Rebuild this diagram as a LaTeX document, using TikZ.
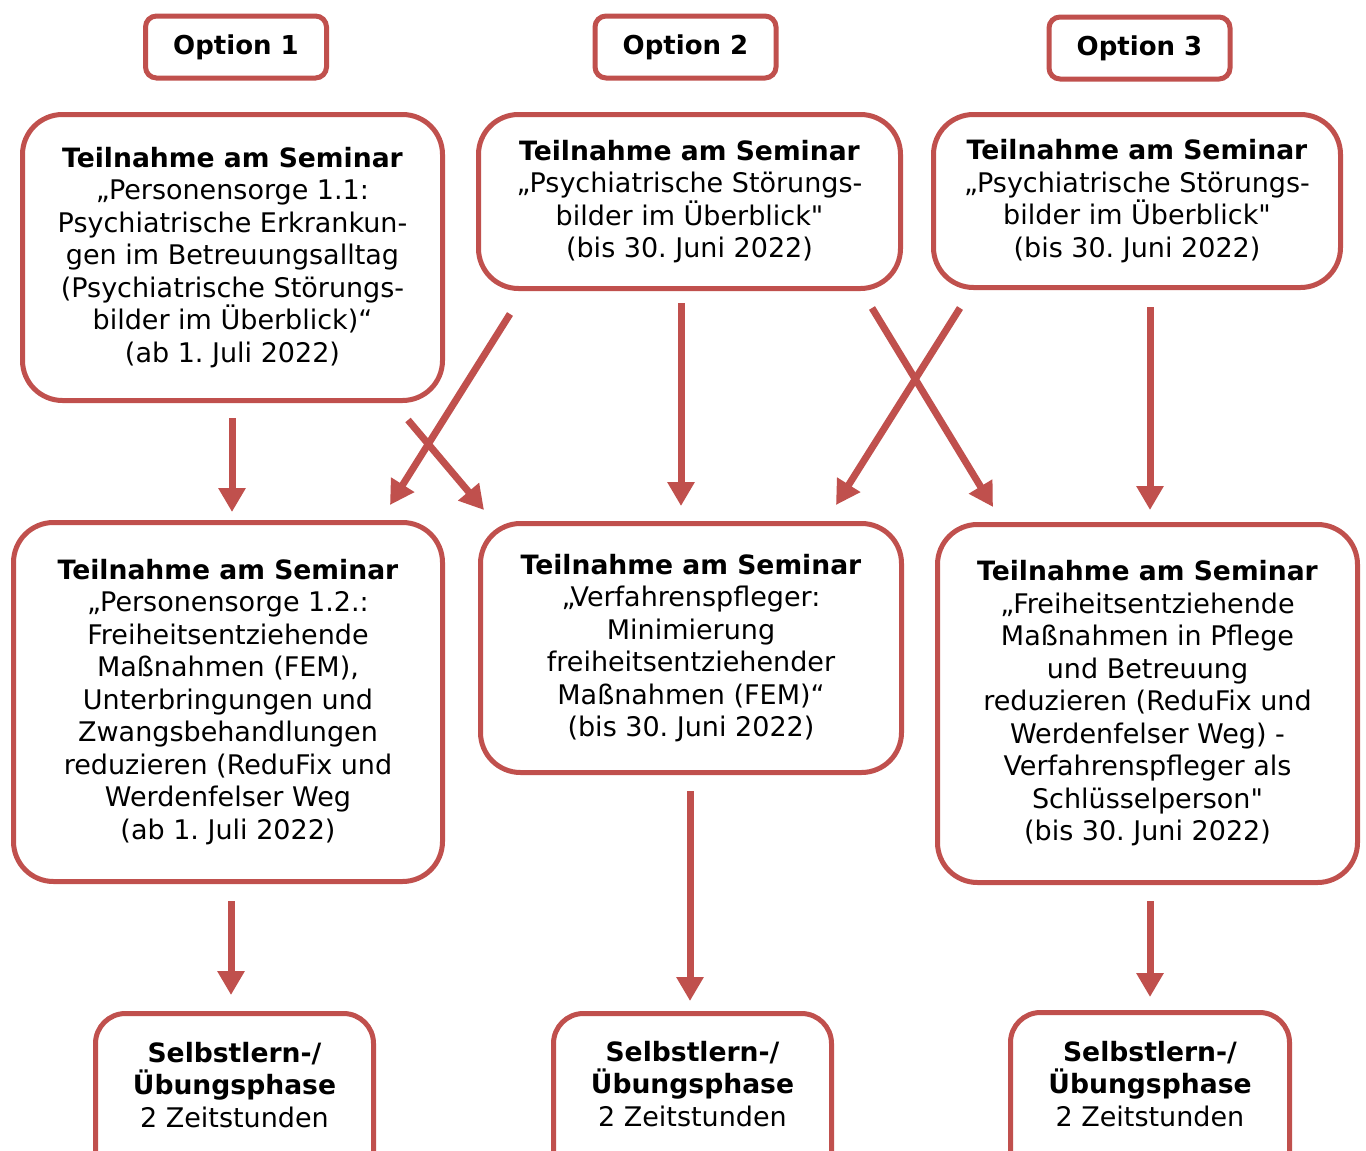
\documentclass[tikz,border=0pt]{standalone}
\usepackage{fontspec}
\setmainfont{DejaVu Sans}[Ligatures=TeXOff]
\usetikzlibrary{arrows.meta}
\definecolor{accent}{HTML}{C0504D}
\frenchspacing
\begin{document}
\begin{tikzpicture}[x=1pt,y=-1pt,
 box/.style={draw=accent,line width=5pt,rounded corners=40pt,align=center,font=\fontsize{27}{32.5}\selectfont,inner sep=0pt},
 optbox/.style={draw=accent,line width=5pt,rounded corners=11pt,align=center,font=\fontsize{26}{30}\selectfont\bfseries,inner sep=0pt,minimum width=181pt,minimum height=62pt},
 cframe/.style={draw=accent,line width=5pt,rounded corners=30pt},
 ctext/.style={align=center,font=\fontsize{27}{32.5}\selectfont,inner sep=0pt},
 hd/.style={},
 arr/.style={draw=accent,line width=7pt,-{Triangle[length=24pt,width=26pt]}},
]
\newcommand{\hdr}[1]{{\fontsize{26.6}{32.5}\selectfont\bfseries #1}}
\useasboundingbox (0,0) rectangle (1366,1151);
\fill[white] (0,0) rectangle (1366,1151);

% option boxes
\node[optbox] (o1) at (236,47) {Option 1};
\node[optbox] (o2) at (685.5,47) {Option 2};
\node[optbox] (o3) at (1139.5,48) {Option 3};

% row 1
\node[box,minimum width=420pt,minimum height=286pt] (a1) at (232.5,257.5)
 {\hdr{Teilnahme am Seminar}\\„Personensorge 1.1:\\Psychiatrische Erkrankun-\\gen im Betreuungsalltag\\(Psychiatrische Störungs-\\bilder im Überblick)“\\(ab 1. Juli 2022)};
\node[box,minimum width=422pt,minimum height=174pt] (a2) at (689.5,201.5)
 {\hdr{Teilnahme am Seminar}\\„Psychiatrische Störungs-\\bilder im Überblick"\\(bis 30. Juni 2022)};
\node[box,minimum width=407pt,minimum height=173pt] (a3) at (1137,201)
 {\hdr{Teilnahme am Seminar}\\„Psychiatrische Störungs-\\bilder im Überblick"\\(bis 30. Juni 2022)};

% row 2
\node[box,minimum width=429pt,minimum height=359pt] (b1) at (228,702)
 {\hdr{Teilnahme am Seminar}\\„Personensorge 1.2.:\\Freiheitsentziehende\\Maßnahmen (FEM),\\Unterbringungen und\\Zwangsbehandlungen\\reduzieren (ReduFix und\\Werdenfelser Weg\\(ab 1. Juli 2022)};
\node[box,minimum width=421pt,minimum height=249pt] (b2) at (691,648)
 {\hdr{Teilnahme am Seminar}\\„Verfahrenspfleger:\\Minimierung\\freiheitsentziehender\\Maßnahmen (FEM)“\\(bis 30. Juni 2022)};
\node[box,minimum width=420pt,minimum height=358pt] (b3) at (1147.5,703.5)
 {\hdr{Teilnahme am Seminar}\\„Freiheitsentziehende\\Maßnahmen in Pflege\\und Betreuung\\reduzieren (ReduFix und\\Werdenfelser Weg) -\\Verfahrenspfleger als\\Schlüsselperson"\\(bis 30. Juni 2022)};

% row 3 (cut off at bottom)
\draw[cframe] (95.5,1013.5) rectangle (373.5,1185);
\draw[cframe] (553.5,1013.5) rectangle (831.5,1185);
\draw[cframe] (1010.5,1012.5) rectangle (1289.5,1185);
\node[ctext] (c1) at (234.5,1085) {\hdr{Selbstlern-/}\\\hdr{Übungsphase}\\2 Zeitstunden};
\node[ctext] (c2) at (692.5,1084) {\hdr{Selbstlern-/}\\\hdr{Übungsphase}\\2 Zeitstunden};
\node[ctext] (c3) at (1150,1084) {\hdr{Selbstlern-/}\\\hdr{Übungsphase}\\2 Zeitstunden};

% arrow end points
\coordinate (a1s) at (232,418);   \coordinate (b1n) at (232,512);
\coordinate (a2sw) at (510,314);  \coordinate (b1ne) at (390,505);
\coordinate (a1se) at (408,420);  \coordinate (b2nw) at (484,510);
\coordinate (a2s) at (681,303);   \coordinate (b2n) at (681,506);
\coordinate (a2se) at (872,308);  \coordinate (b3nw) at (993,507);
\coordinate (a3sw) at (960,308);  \coordinate (b2ne) at (836,505);
\coordinate (a3s) at (1150,307);  \coordinate (b3n) at (1150,510);
\coordinate (b1s) at (231,901);   \coordinate (c1n) at (231,995);
\coordinate (b2s) at (690,791);   \coordinate (c2n) at (690,1001);
\coordinate (b3s) at (1150,901);  \coordinate (c3n) at (1150,997);

\draw[arr] (a1s) -- (b1n);
\draw[arr] (a2sw) -- (b1ne);
\draw[arr] (a1se) -- (b2nw);
\draw[arr] (a2s) -- (b2n);
\draw[arr] (a2se) -- (b3nw);
\draw[arr] (a3sw) -- (b2ne);
\draw[arr] (a3s) -- (b3n);
\draw[arr] (b1s) -- (c1n);
\draw[arr] (b2s) -- (c2n);
\draw[arr] (b3s) -- (c3n);
\end{tikzpicture}
\end{document}
